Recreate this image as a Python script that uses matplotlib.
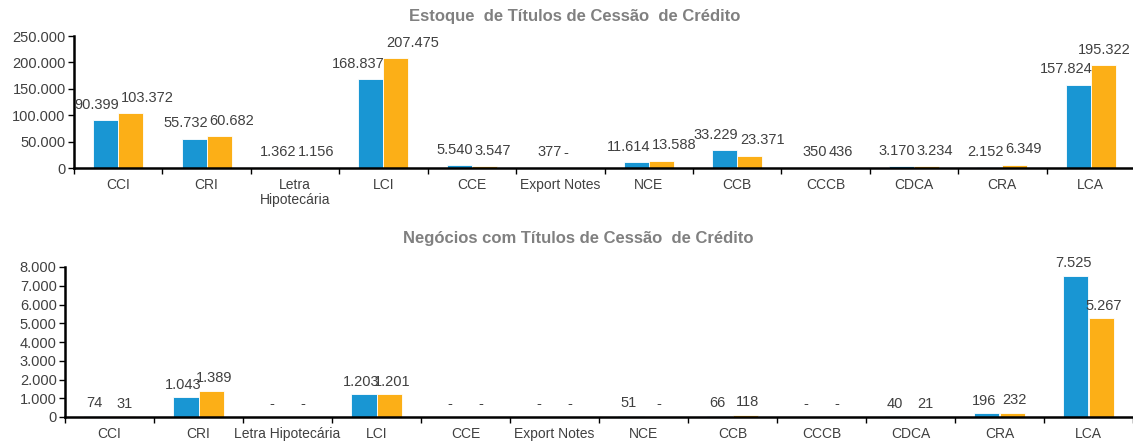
import matplotlib
matplotlib.use("Agg")
import matplotlib.pyplot as plt
import numpy as np
from matplotlib.ticker import FuncFormatter, FixedLocator

plt.rcParams['font.family'] = ['Liberation Sans', 'DejaVu Sans']

categories_top = ["CCI", "CRI", "Letra\nHipotecária", "LCI", "CCE", "Export Notes", "NCE",
                  "CCB", "CCCB", "CDCA", "CRA", "LCA"]
categories_bottom = ["CCI", "CRI", "Letra Hipotecária", "LCI", "CCE", "Export Notes", "NCE",
                     "CCB", "CCCB", "CDCA", "CRA", "LCA"]

estoque_a = [90399, 55732, 1362, 168837, 5540, 377, 11614, 33229, 350, 3170, 2152, 157824]
estoque_b = [103372, 60682, 1156, 207475, 3547, 0, 13588, 23371, 436, 3234, 6349, 195322]

negocios_a = [74, 1043, 0, 1203, 0, 0, 51, 66, 0, 40, 196, 7525]
negocios_b = [31, 1389, 0, 1201, 0, 0, 0, 118, 0, 21, 232, 5267]

title_top = "Estoque  de Títulos de Cessão  de Crédito"
title_bottom = "Negócios com Títulos de Cessão  de Crédito"

BLUE = "#1996D3"
ORANGE = "#FCAF17"
TEXT = "#404040"


def fmt(v):
    if v == 0:
        return "-"
    return f"{int(v):,}".replace(",", ".")


W, H = 1133, 441
fig = plt.figure(figsize=(W / 100, H / 100), dpi=100)
labels = []


def draw(ax, cats, a, b, ymax, ystep, label_off, spread, xpad):
    n = len(cats)
    x = np.arange(n)
    bw = 0.283
    ax.bar(x - bw / 2, a, bw, color=BLUE, edgecolor="white", linewidth=0.6)
    ax.bar(x + bw / 2, b, bw, color=ORANGE, edgecolor="white", linewidth=0.6)
    for xi, va, vb in zip(x, a, b):
        if spread:
            t1 = ax.annotate(fmt(va), (xi, va), xytext=(1, label_off), textcoords="offset points",
                             ha="right", va="bottom", fontsize=10.5, color=TEXT)
            t2 = ax.annotate(fmt(vb), (xi, vb), xytext=(2, label_off), textcoords="offset points",
                             ha="left", va="bottom", fontsize=10.5, color=TEXT)
        else:
            t1 = ax.annotate(fmt(va), (xi - bw / 2, va), xytext=(-2, label_off), textcoords="offset points",
                             ha="center", va="bottom", fontsize=10.5, color=TEXT)
            t2 = ax.annotate(fmt(vb), (xi + bw / 2, vb), xytext=(2, label_off), textcoords="offset points",
                             ha="center", va="bottom", fontsize=10.5, color=TEXT)
        labels.extend([t1, t2])
    ax.set_xlim(-0.5, n - 0.5)
    ax.set_ylim(0, ymax)
    ax.set_yticks(np.arange(0, ymax + 1, ystep))
    ax.yaxis.set_major_formatter(FuncFormatter(lambda v, p: "0" if v == 0 else f"{int(v):,}".replace(",", ".")))
    ax.set_xticks(x)
    ax.set_xticklabels(cats, fontsize=10, color=TEXT, linespacing=1.1)
    ax.tick_params(axis="x", which="major", length=0, pad=xpad)
    ax.xaxis.set_minor_locator(FixedLocator(np.arange(-0.5, n, 1.0)))
    ax.tick_params(axis="x", which="minor", length=4, width=1, direction="out")
    ax.tick_params(axis="y", labelsize=10.5, labelcolor=TEXT, color="black", length=4, width=1,
                   direction="out", pad=2)
    for s in ("top", "right"):
        ax.spines[s].set_visible(False)
    for s in ("left", "bottom"):
        ax.spines[s].set_linewidth(1.8)
        ax.spines[s].set_color("black")


ax1 = fig.add_axes([74 / W, 1 - 168 / H, (1135 - 74) / W, (168 - 36) / H])
draw(ax1, categories_top, estoque_a, estoque_b, 250000, 50000, 6, True, 7)
fig.text(575 / W, 1 - 17 / H, title_top, ha="center", va="center", fontsize=12,
         fontweight="bold", color="#808080")

ax2 = fig.add_axes([65 / W, 1 - 417 / H, (1133 - 65) / W, (417 - 267) / H])
draw(ax2, categories_bottom, negocios_a, negocios_b, 8000, 1000, 4, False, 7)
fig.text(578 / W, 1 - 238 / H, title_bottom, ha="center", va="center", fontsize=12,
         fontweight="bold", color="#808080")

# keep labels inside the figure
fig.canvas.draw()
renderer = fig.canvas.get_renderer()
for t in labels:
    bb = t.get_window_extent(renderer)
    if bb.x1 > W - 2:
        dx_pt = (W - 2 - bb.x1) * 72 / 100
        ox, oy = t.xyann
        t.xyann = (ox + dx_pt, oy)

fig.savefig("out.png", dpi=100)
